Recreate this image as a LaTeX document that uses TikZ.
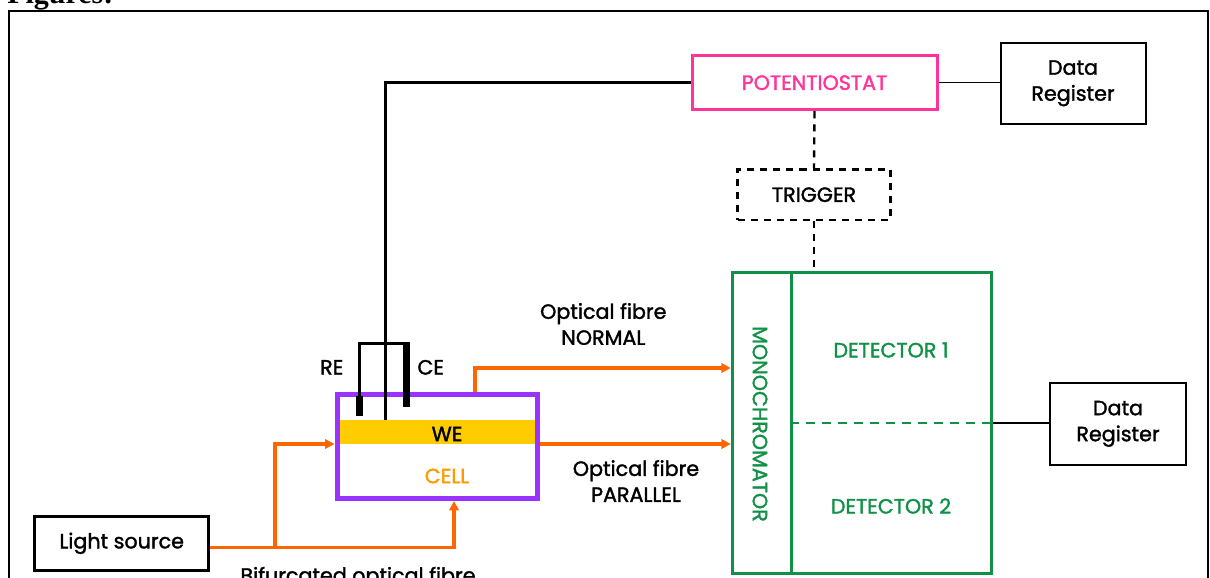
\documentclass[tikz,border=0pt]{standalone}
\usepackage{fontspec}
\setmainfont{Poppins}[FakeBold=1.6]
\newfontfamily\serifbold{Liberation Serif}
\usetikzlibrary{arrows.meta,calc}
\definecolor{potpink}{RGB}{255,51,153}
\definecolor{detgreen}{RGB}{17,145,72}
\definecolor{cellpurple}{RGB}{153,51,255}
\definecolor{fibreorange}{RGB}{255,102,0}
\definecolor{cellorange}{RGB}{255,153,0}
\definecolor{weyellow}{RGB}{255,204,0}
\def\px{*0.75pt}
\tikzset{
  lbl/.style={font=\fontsize{15.5}{19.5}\selectfont, align=center, inner sep=0pt},
  boxbase/.style={rectangle, inner sep=0pt, align=center, font=\fontsize{15.5}{19.5}\selectfont},
  fibre/.style={draw=fibreorange, line width=2.6pt, -{Triangle[length=7pt,width=7pt]}},
  thinlink/.style={draw=black, line width=0.9pt},
  dashlink/.style={draw=black, line width=1.8pt, dash pattern=on 5.3pt off 4.5pt},
}
\begin{document}
\begin{tikzpicture}[x=0.75pt,y=-0.75pt]
\useasboundingbox (0,0) rectangle (1210,578);
% heading and frame
\node[anchor=base west, inner sep=0pt, font=\serifbold\bfseries\fontsize{22.5}{26}\selectfont] (fig) at (7,3.5) {Figures:};
\draw[line width=1.5pt] (1207.5,620) -- (1207.5,10.7) -- (8.5,10.7) -- (8.5,620);
% boxes
\node[boxbase, draw=potpink, line width=2.25pt, text=potpink, minimum width=245\px, minimum height=54\px] (pot) at (814.5,82.7) {POTENTIOSTAT};
\node[boxbase, draw=black, line width=1.5pt, minimum width=145\px, minimum height=81\px] (dr1) at (1073,83.3) {Data\\Register};
\node[boxbase, draw=black, line width=1.8pt, dash pattern=on 5.3pt off 4.5pt, minimum width=153\px, minimum height=50.5\px] (trig) at (814,194.7) {TRIGGER};
\node[boxbase, draw=detgreen, line width=2.25pt, minimum width=59.4\px, minimum height=300.6\px] (mono) at (762,423) {};
\node[boxbase, rotate=-90, text=detgreen] (monotxt) at (760,424) {MONOCHROMATOR};
\node[boxbase, draw=detgreen, line width=2.25pt, minimum width=200\px, minimum height=300.6\px] (det) at (891.7,423) {};
\node[boxbase, text=detgreen] (det1) at (891,350) {DETECTOR 1};
\node[boxbase, text=detgreen] (det2) at (891,506) {DETECTOR 2};
\node[boxbase, draw=black, line width=1.5pt, minimum width=136\px, minimum height=82\px] (dr2) at (1118,423.8) {Data\\Register};
\node[boxbase, draw=black, line width=2.25pt, minimum width=174\px, minimum height=54\px] (light) at (121.7,543.3) {Light source};
% cell
\fill[weyellow] (339,420) rectangle (535,444);
\node[boxbase, draw=cellpurple, line width=3.75pt, minimum width=200\px, minimum height=104\px] (cell) at (437,446.5) {};
\node[boxbase] (we) at (447,434) {WE};
\node[boxbase, text=cellorange] (celltxt) at (447,476) {CELL};
% electrodes
\coordinate (weTop) at (385.7,420);
\draw[line width=2.25pt] (pot.west) -| (weTop);
\draw[line width=2.25pt] (359.3,397) -- (359.3,343.3) -- (406.7,343.3);
\draw[line width=5.2pt] (359.3,396) -- (359.3,416);
\draw[line width=5pt] (406.7,342) -- (406.7,407.3);
\node[lbl] (re) at (331.7,367.3) {RE};
\node[lbl] (ce) at (430.7,367.3) {CE};
% links
\draw[thinlink] (pot.east) -- (pot.east -| dr1.west);
\draw[thinlink] (det.east) -- (det.east -| dr2.west);
\draw[dashlink] (pot.south) -- (trig.north);
\draw[dashlink] (trig.south) -- (trig.south |- det.north);
\draw[detgreen, line width=1.8pt, dash pattern=on 6.8pt off 5.2pt] (det.west) -- (det.east);
% fibres
\coordinate (branch) at (275,547.7);
\draw[fibre] ($(light.east)+(0,4.4)$) -| ($(cell.south)+(17,0)$);
\draw[fibre] (branch) |- ($(cell.west)+(0,-2.5)$);
\draw[fibre] ($(cell.north)+(38,0)$) |- ($(mono.west)+(0,-55)$);
\draw[fibre] ($(cell.east)+(0,-2.5)$) -- ($(mono.west)+(0,21)$);
% labels
\node[lbl] (normal) at (603.3,324) {Optical fibre\\NORMAL};
\node[lbl] (parallel) at (636,481) {Optical fibre\\PARALLEL};
\node[lbl, anchor=base] (bif) at (358,582.7) {Bifurcated optical fibre};
\end{tikzpicture}
\end{document}
